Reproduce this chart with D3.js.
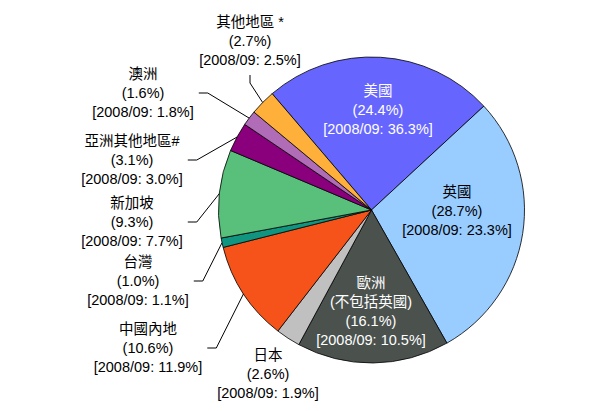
<!DOCTYPE html>
<html>
<head>
<meta charset="utf-8">
<script src="https://cdn.jsdelivr.net/npm/d3@7"></script>
<style>
  html, body { margin: 0; padding: 0; background: #fff; }
  svg text { font-family: "Liberation Sans", "Noto Sans CJK TC", sans-serif; font-size: 14.5px; }
</style>
</head>
<body>
<svg id="chart" width="616" height="411"></svg>
<script>
'use strict';

// ── Data ───────────────────────────────────────────────────────────────────
const regions   = ['美國', '英國', '歐洲', '日本', '中國內地', '台灣', '新加坡', '亞洲其他地區', '澳洲', '其他地區'];
const labelName = [['美國'], ['英國'], ['歐洲', '(不包括英國)'], ['日本'], ['中國內地'], ['台灣'],
                   ['新加坡'], ['亞洲其他地區#'], ['澳洲'], ['其他地區 *']];
const share     = [24.4, 28.7, 16.1, 2.6, 10.6, 1.0, 9.3, 3.1, 1.6, 2.7];
const share0809 = [36.3, 23.3, 10.5, 1.9, 11.9, 1.1, 7.7, 3.0, 1.8, 2.5];
const prevLabel = '2008/09';

// ── Styling / layout ───────────────────────────────────────────────────────
const colors = ['#6666ff', '#99ccff', '#4b524e', '#c0c0c0', '#f55319',
                '#109580', '#58c07a', '#8a007c', '#b06cb6', '#ffb03b'];
const textCol = ['#fff', '#000', '#fff', '#000', '#000', '#000', '#000', '#000', '#000', '#000'];
// label centre (x, y of first line) and leader style
const labelAt = [[378, 91], [457, 192], [371, 283], [268, 355], [148, 329], [138, 262],
                 [132, 203], [132, 141], [143, 74], [250, 22]];
const leader  = [null, null, null, null, 'right', 'right', 'right', 'right', 'right', 'bottom'];

const cx = 371.5, cy = 210, R = 153, LH = 19;
const start = -40.5 * Math.PI / 180;

const svg = d3.select('#chart');

const pie = d3.pie().value(d => d).sort(null)
  .startAngle(start).endAngle(start + 2 * Math.PI);
const arc = d3.arc().innerRadius(0).outerRadius(R);
const arcs = pie(share);

const g = svg.append('g').attr('transform', `translate(${cx},${cy})`);

g.selectAll('path')
  .data(arcs)
  .join('path')
  .attr('d', arc)
  .attr('fill', (d, i) => colors[i])
  .attr('stroke', '#000')
  .attr('stroke-width', 0.8);

// ── Labels ─────────────────────────────────────────────────────────────────
arcs.forEach((a, i) => {
  const lines = labelName[i].concat([`(${share[i].toFixed(1)}%)`, `[${prevLabel}: ${share0809[i].toFixed(1)}%]`]);
  const [lx, ly] = labelAt[i];
  const tg = svg.append('g');
  let maxW = 0;
  lines.forEach((t, k) => {
    const tx = tg.append('text')
      .attr('x', lx)
      .attr('y', ly + k * LH)
      .attr('dy', '0.36em')
      .attr('text-anchor', 'middle')
      .attr('fill', textCol[i])
      .text(t);
    maxW = Math.max(maxW, tx.node().getComputedTextLength());
  });

  if (!leader[i]) return;
  const mid = (a.startAngle + a.endAngle) / 2;
  const px = cx + R * Math.sin(mid), py = cy - R * Math.cos(mid);
  let pts;
  if (leader[i] === 'right') {
    const yMid = ly + (lines.length - 2) * LH;
    const x0 = lx + maxW / 2 + 5;
    pts = [[x0, yMid], [x0 + 9, yMid], [px, py]];
  } else {
    const y0 = ly + (lines.length - 1) * LH + 15;
    pts = [[lx, y0], [lx, y0 + 8], [px, py]];
  }
  svg.append('path')
    .attr('d', d3.line()(pts))
    .attr('fill', 'none')
    .attr('stroke', '#000')
    .attr('stroke-width', 1);
});
</script>
</body>
</html>
